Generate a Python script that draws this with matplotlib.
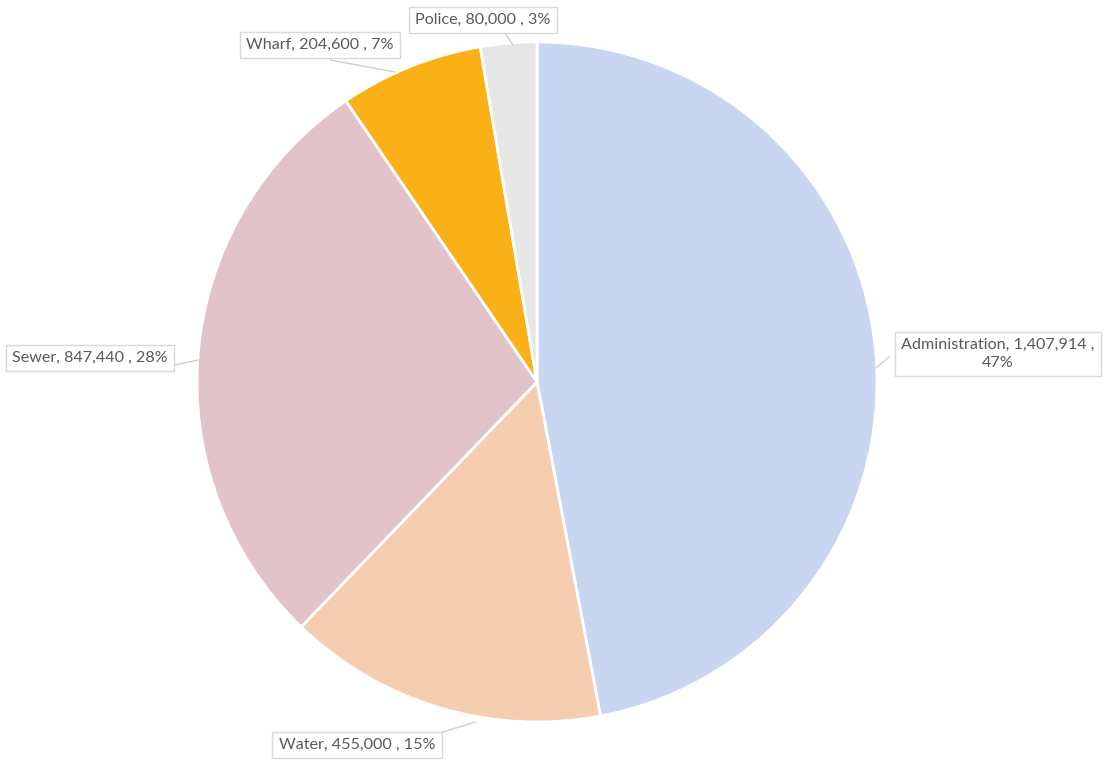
import matplotlib
matplotlib.use("Agg")
import matplotlib.pyplot as plt
import numpy as np

categories = ["Administration", "Water", "Sewer", "Wharf", "Police"]
values = [1407914, 455000, 847440, 204600, 80000]
pct_labels = ["47%", "15%", "28%", "7%", "3%"]
colors = ["#c9d6f1", "#f5cdb0", "#e2c3ca", "#fab118", "#e6e6e6"]

W, H = 1109, 761
fig = plt.figure(figsize=(W / 100, H / 100), dpi=100)
ax = fig.add_axes([0, 0, 1, 1])
ax.set_xlim(0, W)
ax.set_ylim(0, H)
ax.set_aspect("equal")
ax.axis("off")

cx, cy, r = 537, H - 382, 340
ax.pie(values, colors=colors, startangle=90, counterclock=False,
       center=(cx, cy), radius=r,
       wedgeprops=dict(edgecolor="white", linewidth=2))
ax.set_xlim(0, W)
ax.set_ylim(0, H)

def fmt(v):
    return f"{v:,}"

texts = [
    f"{categories[0]}, {fmt(values[0])} ,\n{pct_labels[0]}",
    f"{categories[1]}, {fmt(values[1])} , {pct_labels[1]}",
    f"{categories[2]}, {fmt(values[2])} , {pct_labels[2]}",
    f"{categories[3]}, {fmt(values[3])} , {pct_labels[3]}",
    f"{categories[4]}, {fmt(values[4])} , {pct_labels[4]}",
]
# label box centers (pixel coords from top) and leader line endpoints
label_pos = [(998, 354), (357, 745), (90, 358), (320, 45), (483, 20)]
leaders = [
    [(889, 357), (876, 368)],
    [(440, 733), (475, 722)],
    [(175, 365), (198, 360)],
    [(330, 60), (395, 72)],
    [(505, 33), (513, 45)],
]
for t, (lx, ly), ld in zip(texts, label_pos, leaders):
    xs = [p[0] for p in ld]
    ys = [H - p[1] for p in ld]
    ax.plot(xs, ys, color="#d0d0d0", lw=1, zorder=3)
    ax.text(lx, H - ly, t, ha="center", va="center", fontsize=11.6,
            family=["Lato", "DejaVu Sans"], color="#595959", linespacing=1.35,
            zorder=4,
            bbox=dict(boxstyle="square,pad=0.4", fc="white", ec="#d9d9d9", lw=1))

fig.savefig("out.png", dpi=100)
